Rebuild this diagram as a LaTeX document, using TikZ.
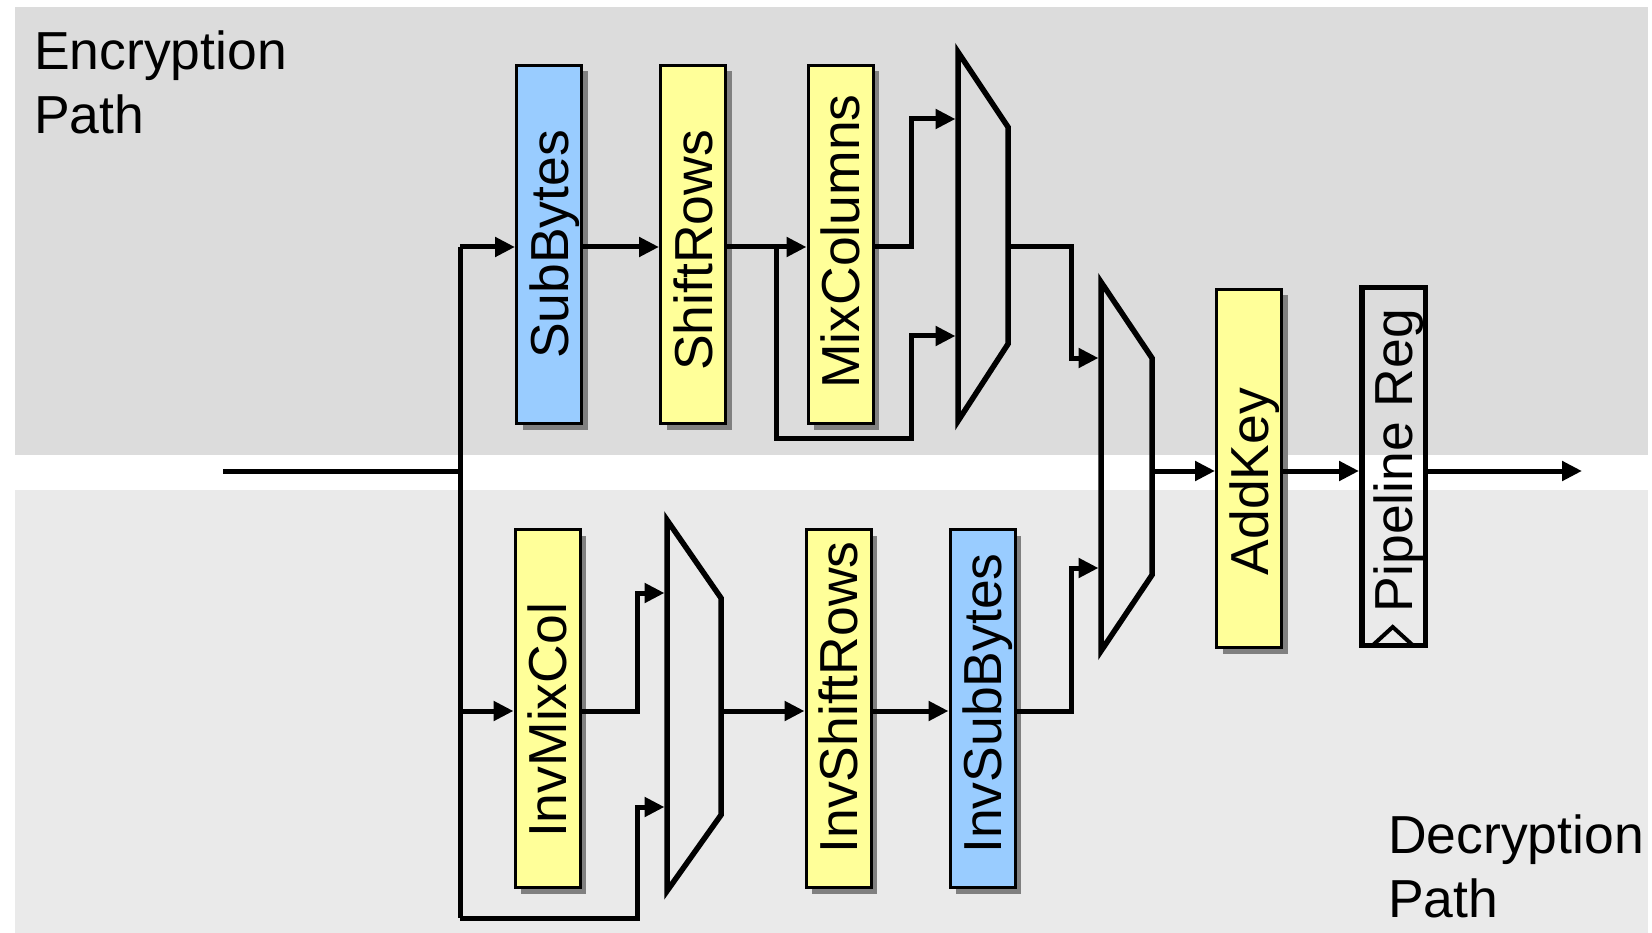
\documentclass[tikz,border=0pt]{standalone}
\usepackage{fontspec}
\setmainfont{Liberation Sans}
\usetikzlibrary{arrows.meta,shadows,calc}
\definecolor{bandtop}{HTML}{DCDCDC}
\definecolor{bandbot}{HTML}{EAEAEA}
\definecolor{boxblue}{HTML}{99CCFF}
\definecolor{boxyellow}{HTML}{FFFF99}
\newcommand{\vlab}[2][0pt]{\rotatebox{90}{\raisebox{0pt}[\height][0pt]{\hspace*{-#1}#2\hspace*{#1}}}}
\begin{document}
\begin{tikzpicture}[x=1pt,y=-1pt,
  stagebox/.style={draw=black, line width=3pt, inner sep=0pt,
    minimum width=65pt, minimum height=358pt,
    font=\fontsize{53.5}{62}\selectfont,
    drop shadow={shadow xshift=6pt, shadow yshift=-6pt, fill=black!50, opacity=1}},
  regbox/.style={draw=black, line width=5.5pt, inner sep=0pt,
    minimum width=63.5pt, minimum height=357.5pt,
    font=\fontsize{53.5}{62}\selectfont},
  muxshape/.style={draw=black, line width=5.5pt, line join=miter},
  wire/.style={line width=5pt, line join=miter},
  arr/.style={wire, -{Triangle[length=20pt,width=19pt]}},
  pathlabel/.style={anchor=north west, inner sep=0pt, align=left,
    font=\fontsize{53.5}{64}\selectfont}
]
\useasboundingbox (0,0) rectangle (1652,933);
% background bands
\fill[bandtop] (15,7) rectangle (1648,455);
\fill[bandbot] (15,490) rectangle (1648,933);

% labels
\node[pathlabel] (enc) at (34,30.5) {Encryption\\Path};
\node[pathlabel] (dec) at (1388,815) {Decryption\\Path};

% row coordinates
\coordinate (r1) at (0,247);
\coordinate (r0) at (0,471);
\coordinate (r2) at (0,711);
\coordinate (in) at (223,471);
\coordinate (j) at (460,471);
\coordinate (jt) at (460,247);
\coordinate (jb) at (460,918);

% stage boxes
\node[stagebox, fill=boxblue]   (sb)  at (549,244.5) {\vlab{SubBytes}};
\node[stagebox, fill=boxyellow] (sr)  at (693,244.5) {\vlab[6pt]{ShiftRows}};
\node[stagebox, fill=boxyellow] (mc)  at (840.5,244.5) {\vlab[-3pt]{MixColumns}};
\node[stagebox, fill=boxyellow] (ak)  at (1249,468.5) {\vlab[13pt]{AddKey}};
\node[regbox] (pr) at (1393.5,466.5) {\vlab[-6pt]{Pipeline Reg}};
\node[stagebox, fill=boxyellow] (imc) at (547.5,708.5) {\vlab[12pt]{InvMixCol}};
\node[stagebox, fill=boxyellow] (isr) at (838.5,708.5) {\vlab[-11pt]{InvShiftRows}};
\node[stagebox, fill=boxblue]   (isb) at (982.5,708.5) {\vlab[-5pt]{InvSubBytes}};

% clock mark
\draw[line width=4pt, line join=miter] (1373,645) -- (1392.7,627) -- (1412.5,645);

% muxes
\draw[muxshape] (958,52) -- (1008,127) -- (1008,344) -- (958,421) -- cycle;
\draw[muxshape] (1101,282) -- (1152,358) -- (1152,575) -- (1101,651) -- cycle;
\draw[muxshape] (667,520) -- (721,598) -- (721,815) -- (667,891) -- cycle;
\coordinate (m1a) at (955.5,119);
\coordinate (m1b) at (955.5,336);
\coordinate (m1o) at (1008,247);
\coordinate (m2a) at (1098.5,358);
\coordinate (m2b) at (1098.5,568);
\coordinate (m2o) at (1152,471);
\coordinate (m3a) at (664.5,593);
\coordinate (m3b) at (664.5,807);
\coordinate (m3o) at (721,711);

% jog points
\coordinate (br)  at (776,247);
\coordinate (jg1) at (911,438);
\coordinate (jg2) at (911,119);
\coordinate (jg3) at (1071,358);
\coordinate (jg4) at (1071,568);
\coordinate (jg5) at (637.5,593);
\coordinate (jg6) at (637.5,807);
\coordinate (out) at (1582,471);

% wiring
\draw[wire] (in) -- (j);
\draw[wire] (jt) -- (jb);
\draw[arr] (jt) -- (sb.west |- r1);
\draw[arr] (sb.east |- r1) -- (sr.west |- r1);
\draw[arr] (sr.east |- r1) -- (mc.west |- r1);
\draw[arr] (br) |- (jg1) -- (jg1 |- m1b) -- (m1b);
\draw[arr] (mc.east |- r1) -| (jg2) -- (m1a);
\draw[arr] (m1o) -| (jg3) -- (m2a);
\draw[arr] (isb.east |- r2) -| (jg4) -- (m2b);
\draw[arr] (m2o) -- (ak.west |- r0);
\draw[arr] (ak.east |- r0) -- (pr.west |- r0);
\draw[arr] (pr.east |- r0) -- (out);
\draw[arr] (j |- r2) -- (imc.west |- r2);
\draw[arr] (imc.east |- r2) -| (jg5) -- (m3a);
\draw[arr] (jb) -| (jg6) -- (m3b);
\draw[arr] (m3o) -- (isr.west |- r2);
\draw[arr] (isr.east |- r2) -- (isb.west |- r2);
\end{tikzpicture}
\end{document}
